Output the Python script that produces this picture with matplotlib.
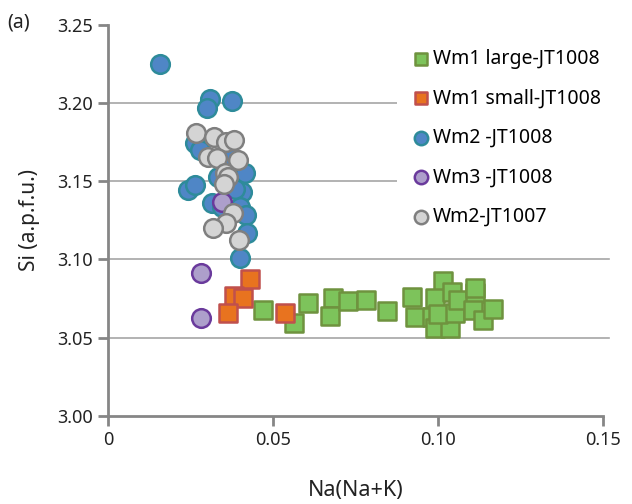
import matplotlib.pyplot as plt

plt.rcParams['font.family'] = ['Noto Sans', 'DejaVu Sans']

# Wm1 large-JT1008
wm1_large_x = [0.0470, 0.0564, 0.0606, 0.0682, 0.0673, 0.0727, 0.0782, 0.0845, 0.0921, 0.0930,
               0.1015, 0.0991, 0.0982, 0.0991, 0.1036, 0.1000, 0.1052, 0.1042, 0.1061, 0.1112,
               0.1112, 0.1106, 0.1136, 0.1167]
wm1_large_y = [3.0678, 3.0595, 3.0722, 3.0754, 3.0639, 3.0735, 3.0742, 3.0671, 3.0761, 3.0633,
               3.0863, 3.0754, 3.0633, 3.0563, 3.0563, 3.0652, 3.0659, 3.0793, 3.0742, 3.0786,
               3.0820, 3.0678, 3.0614, 3.0684]

# Wm1 small-JT1008
wm1_small_x = [0.0430, 0.0382, 0.0409, 0.0364, 0.0536]
wm1_small_y = [3.0876, 3.0767, 3.0754, 3.0659, 3.0659]

# Wm2 -JT1008
wm2_x = [0.0158, 0.0309, 0.0300, 0.0376, 0.0264, 0.0279, 0.0376, 0.0415, 0.0333, 0.0242,
         0.0264, 0.0406, 0.0315, 0.0345, 0.0400, 0.0418, 0.0421, 0.0400, 0.0385]
wm2_y = [3.2251, 3.2027, 3.1969, 3.2014, 3.1746, 3.1700, 3.1650, 3.1554, 3.1528, 3.1445,
         3.1477, 3.1432, 3.1362, 3.1336, 3.1336, 3.1285, 3.1170, 3.1010, 3.1450]

# Wm3 -JT1008
wm3_x = [0.0345, 0.0282, 0.0282]
wm3_y = [3.1368, 3.0914, 3.0627]

# Wm2-JT1007
wm2b_x = [0.0267, 0.0321, 0.0358, 0.0382, 0.0303, 0.0330, 0.0394, 0.0355, 0.0364, 0.0352,
          0.0379, 0.0358, 0.0318, 0.0397]
wm2b_y = [3.1810, 3.1784, 3.1752, 3.1765, 3.1656, 3.1650, 3.1637, 3.1554, 3.1528, 3.1483,
          3.1298, 3.1234, 3.1202, 3.1125]

fig = plt.figure(figsize=(6.32, 5.04), dpi=100)
ax = fig.add_axes([0.171, 0.175, 0.783, 0.776])

axcol = '#868686'
sq = 165
ci = 180
ax.scatter(wm1_large_x, wm1_large_y, marker='s', s=sq, c='#7dc35b', edgecolors='#6f923f',
           linewidths=1.8, label='Wm1 large-JT1008', zorder=3)
ax.scatter(wm1_small_x, wm1_small_y, marker='s', s=sq, c='#e8731f', edgecolors='#c0504d',
           linewidths=1.8, label='Wm1 small-JT1008', zorder=3)
ax.scatter(wm2_x, wm2_y, marker='o', s=ci, c='#4f86c6', edgecolors='#2e8b9a',
           linewidths=1.8, label='Wm2 -JT1008', zorder=3)
ax.scatter(wm3_x, wm3_y, marker='o', s=ci, c='#ad9fcb', edgecolors='#6a3a9c',
           linewidths=1.8, label='Wm3 -JT1008', zorder=3)
ax.scatter(wm2b_x, wm2b_y, marker='o', s=ci, c='#d4d4d4', edgecolors='#7f7f7f',
           linewidths=1.8, label='Wm2-JT1007', zorder=3)

ax.set_xlim(0, 0.15)
ax.set_ylim(3.00, 3.25)
ax.set_xticks([0, 0.05, 0.10, 0.15])
ax.set_xticklabels(['0', '0.05', '0.10', '0.15'])
ax.set_yticks([3.00, 3.05, 3.10, 3.15, 3.20, 3.25])
ax.set_yticklabels(['3.00', '3.05', '3.10', '3.15', '3.20', '3.25'])
for yv in [3.05, 3.10, 3.15, 3.20]:
    ax.axhline(yv, xmin=0, xmax=1.012, color='#a6a6a6', lw=1.2, zorder=1, clip_on=False)

for s in ['top', 'right']:
    ax.spines[s].set_visible(False)
for s in ['left', 'bottom']:
    ax.spines[s].set_color(axcol)
    ax.spines[s].set_linewidth(2)
ax.tick_params(axis='both', colors=axcol, width=2, length=7, labelsize=13,
               labelcolor='#222222', pad=4)

ax.set_xlabel('Na(Na+K)', fontsize=15.5, color='#222222', labelpad=22)
ax.set_ylabel('Si (a.p.f.u.)', fontsize=15, color='#222222', labelpad=12)
fig.text(0.012, 0.955, '(a)', fontsize=14, color='#222222', va='center')

leg = ax.legend(loc='upper right', bbox_to_anchor=(1.024, 0.973), fontsize=14,
                frameon=True, facecolor='white', edgecolor='none', framealpha=1,
                handletextpad=0.05, labelspacing=1.0, markerscale=0.72,
                borderaxespad=0.1, handlelength=1.2, borderpad=0.6)
leg.set_zorder(5)

fig.savefig('out.png', dpi=100)
